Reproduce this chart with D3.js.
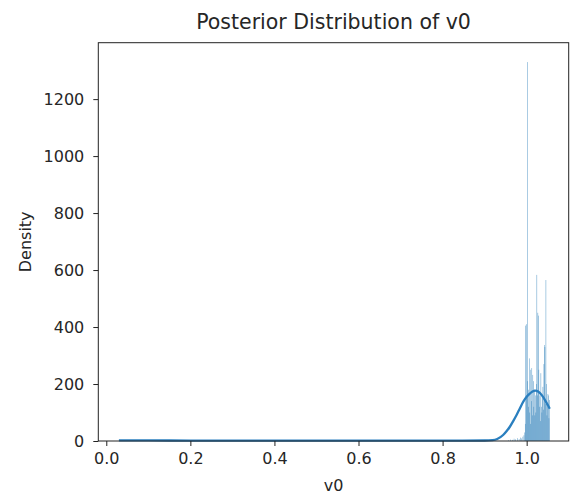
<!DOCTYPE html>
<html>
<head>
<meta charset="utf-8">
<script src="https://cdn.jsdelivr.net/npm/d3@7"></script>
<style>
  body { margin: 0; background: #fff; }
  text { font-family: "DejaVu Sans", sans-serif; fill: #262626; }
</style>
</head>
<body>
<div id="chart"></div>
<script>
// histogram bins (centre of bin, density)
const binCentres = [0.957, 0.962, 0.966, 0.970, 0.974, 0.978, 0.982, 0.985, 0.988, 0.991, 0.9935, 0.9955,
  0.9966, 0.9978, 0.9990, 1.0002, 1.0014, 1.0026, 1.0038, 1.0050, 1.0062, 1.0074, 1.0086,
  1.0098, 1.0110, 1.0122, 1.0134, 1.0146, 1.0158, 1.0170, 1.0182, 1.0194, 1.0206, 1.0218,
  1.0230, 1.0242, 1.0254, 1.0266, 1.0278, 1.0290, 1.0302, 1.0314, 1.0326, 1.0338, 1.0350,
  1.0362, 1.0374, 1.0386, 1.0398, 1.0410, 1.0422, 1.0434, 1.0446, 1.0458, 1.0470, 1.0482,
  1.0494, 1.0506, 1.0518, 1.0530, 1.0542];
const binDensity = [3, 5, 4, 8, 6, 10, 7, 12, 9, 15, 20, 30,
  60, 405, 410, 150, 1330, 210, 120, 180, 290, 100, 60,
  250, 140, 256, 90, 232, 210, 120, 180, 90, 160, 100,
  200, 583, 160, 450, 440, 250, 120, 160, 70, 238, 120,
  100, 150, 190, 110, 270, 337, 330, 130, 565, 200, 90,
  120, 165, 160, 80, 144];
const binWidth = 0.0012;

// kde curve points
const kdeX = [0.03, 0.1, 0.2, 0.3, 0.4, 0.5, 0.6, 0.7, 0.8, 0.9, 0.919, 0.93, 0.944, 0.952,
  0.960, 0.968, 0.976, 0.984, 0.992, 1.000, 1.008, 1.014, 1.020, 1.028, 1.036, 1.045, 1.055];
const kdeY = [2, 2, 1.5, 1.5, 1.5, 1.5, 1.5, 1.5, 1.5, 1.8, 3, 7, 21, 34,
  50, 70, 91, 115, 138, 155, 167, 174, 177, 173, 161, 140, 113];

const xTicks = [0.0, 0.2, 0.4, 0.6, 0.8, 1.0];
const yTicks = [0, 200, 400, 600, 800, 1000, 1200];

const width = 576, height = 495;
const margin = {top: 42.7, right: 576 - 568.7, bottom: 495 - 441, left: 98.3};

const svg = d3.select('#chart').append('svg')
  .attr('width', width)
  .attr('height', height);

const x = d3.scaleLinear()
  .domain([-0.019, 1.100])
  .range([margin.left, width - margin.right]);
const y = d3.scaleLinear()
  .domain([0, 1398])
  .range([height - margin.bottom, margin.top]);

// bars
svg.append('g')
  .selectAll('rect')
  .data(binCentres.map((c, i) => ({c, d: binDensity[i]})))
  .join('rect')
  .attr('x', d => x(d.c - binWidth / 2))
  .attr('width', d => x(d.c + binWidth / 2) - x(d.c - binWidth / 2))
  .attr('y', d => y(d.d))
  .attr('height', d => y(0) - y(d.d))
  .attr('fill', '#1f77b4')
  .attr('fill-opacity', 0.75);

// kde
const line = d3.line()
  .x(d => x(d[0]))
  .y(d => y(d[1]))
  .curve(d3.curveMonotoneX);
svg.append('path')
  .datum(kdeX.map((v, i) => [v, kdeY[i]]))
  .attr('d', line)
  .attr('fill', 'none')
  .attr('stroke', '#2a7fbf')
  .attr('stroke-width', 2.3);

// axes
const xAxis = svg.append('g')
  .attr('transform', `translate(0,${height - margin.bottom})`)
  .call(d3.axisBottom(x).tickValues(xTicks).tickFormat(d3.format('.1f')).tickSize(5).tickPadding(7));
const yAxis = svg.append('g')
  .attr('transform', `translate(${margin.left},0)`)
  .call(d3.axisLeft(y).tickValues(yTicks).tickFormat(d3.format('d')).tickSize(5).tickPadding(9));
[xAxis, yAxis].forEach(g => {
  g.select('.domain').remove();
  g.selectAll('text').style('font-size', '16px').attr('fill', '#262626');
  g.selectAll('line').attr('stroke', '#222').attr('stroke-width', 1);
});

// frame
svg.append('rect')
  .attr('x', margin.left)
  .attr('y', margin.top)
  .attr('width', width - margin.left - margin.right)
  .attr('height', height - margin.top - margin.bottom)
  .attr('fill', 'none')
  .attr('stroke', '#222')
  .attr('stroke-width', 1);

// labels
svg.append('text')
  .attr('x', (margin.left + width - margin.right) / 2)
  .attr('y', 29)
  .attr('text-anchor', 'middle')
  .style('font-size', '20.5px')
  .text('Posterior Distribution of v0');
svg.append('text')
  .attr('x', (margin.left + width - margin.right) / 2)
  .attr('y', 491)
  .attr('text-anchor', 'middle')
  .style('font-size', '16px')
  .text('v0');
svg.append('text')
  .attr('transform', `translate(31,${(margin.top + height - margin.bottom) / 2}) rotate(-90)`)
  .attr('text-anchor', 'middle')
  .style('font-size', '16px')
  .text('Density');
</script>
</body>
</html>
